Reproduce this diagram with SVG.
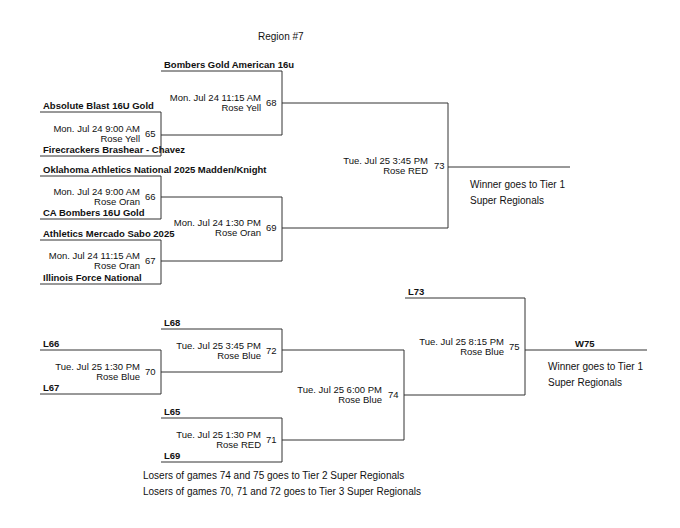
<svg xmlns="http://www.w3.org/2000/svg" width="680" height="528" viewBox="0 0 680 528">
<style>
.l{stroke:#333;stroke-width:1;fill:none}
text{font-family:"Liberation Sans",Arial,sans-serif;fill:#111}
.t{font-size:9.5px;font-weight:bold}
.g{font-size:9.5px;text-anchor:end}
.n{font-size:9.5px}
.x{font-size:10px}
</style>
<rect width="680" height="528" fill="#fff"/>
<text class="x" x="258" y="40">Region #7</text>
<g id="connectors">
<path class="l" d="M40 112H161V156H40M161 135H282M161 71H282V135M282 103H448"/>
<path class="l" d="M40 176H161V219H40M161 197H282M40 240H161V284H40M161 261H282V197M282 228H448V103M448 167H570"/>
<path class="l" d="M40 350H161V394H40M161 372H282M161 329H282V372M282 350H404"/>
<path class="l" d="M161 418H282V462H161M282 440H404V350M404 395H525M405 298H525V395M525 350H647"/>
</g>
<g id="teams">
<text class="t" x="164" y="68">Bombers Gold American 16u</text>
<text class="t" x="43" y="109">Absolute Blast 16U Gold</text>
<text class="t" x="43" y="153">Firecrackers Brashear - Chavez</text>
<text class="t" x="43" y="173">Oklahoma Athletics National 2025 Madden/Knight</text>
<text class="t" x="43" y="216">CA Bombers 16U Gold</text>
<text class="t" x="43" y="237">Athletics Mercado Sabo 2025</text>
<text class="t" x="43" y="281">Illinois Force National</text>
<text class="t" x="43" y="347">L66</text>
<text class="t" x="43" y="391">L67</text>
<text class="t" x="164" y="326">L68</text>
<text class="t" x="164" y="415">L65</text>
<text class="t" x="164" y="459">L69</text>
<text class="t" x="408" y="295">L73</text>
<text class="t" x="575" y="347">W75</text>
</g>
<g id="g65"><text class="g" x="140" y="132">Mon. Jul 24 9:00 AM</text><text class="g" x="140" y="142">Rose Yell</text><text class="n" x="145" y="137">65</text></g>
<g id="g68"><text class="g" x="261" y="101">Mon. Jul 24 11:15 AM</text><text class="g" x="261" y="111">Rose Yell</text><text class="n" x="266" y="106">68</text></g>
<g id="g66"><text class="g" x="140" y="195">Mon. Jul 24 9:00 AM</text><text class="g" x="140" y="205">Rose Oran</text><text class="n" x="145" y="200">66</text></g>
<g id="g67"><text class="g" x="140" y="259">Mon. Jul 24 11:15 AM</text><text class="g" x="140" y="269">Rose Oran</text><text class="n" x="145" y="264">67</text></g>
<g id="g69"><text class="g" x="261" y="226">Mon. Jul 24 1:30 PM</text><text class="g" x="261" y="236">Rose Oran</text><text class="n" x="266" y="231">69</text></g>
<g id="g73"><text class="g" x="428" y="164">Tue. Jul 25 3:45 PM</text><text class="g" x="428" y="174">Rose RED</text><text class="n" x="434" y="169">73</text></g>
<g id="g70"><text class="g" x="140" y="370">Tue. Jul 25 1:30 PM</text><text class="g" x="140" y="380">Rose Blue</text><text class="n" x="145" y="375">70</text></g>
<g id="g72"><text class="g" x="261" y="349">Tue. Jul 25 3:45 PM</text><text class="g" x="261" y="359">Rose Blue</text><text class="n" x="266" y="354">72</text></g>
<g id="g71"><text class="g" x="261" y="438">Tue. Jul 25 1:30 PM</text><text class="g" x="261" y="448">Rose RED</text><text class="n" x="266" y="443">71</text></g>
<g id="g74"><text class="g" x="382" y="393">Tue. Jul 25 6:00 PM</text><text class="g" x="382" y="403">Rose Blue</text><text class="n" x="388" y="398">74</text></g>
<g id="g75"><text class="g" x="504" y="345">Tue. Jul 25 8:15 PM</text><text class="g" x="504" y="355">Rose Blue</text><text class="n" x="509" y="350">75</text></g>
<g id="notes">
<text class="x" x="470" y="188">Winner goes to Tier 1</text>
<text class="x" x="470" y="204">Super Regionals</text>
<text class="x" x="548" y="370">Winner goes to Tier 1</text>
<text class="x" x="548" y="386">Super Regionals</text>
<text class="x" x="143" y="479">Losers of games 74 and 75 goes to Tier 2 Super Regionals</text>
<text class="x" x="143" y="495">Losers of games 70, 71 and 72 goes to Tier 3 Super Regionals</text>
</g>
</svg>
